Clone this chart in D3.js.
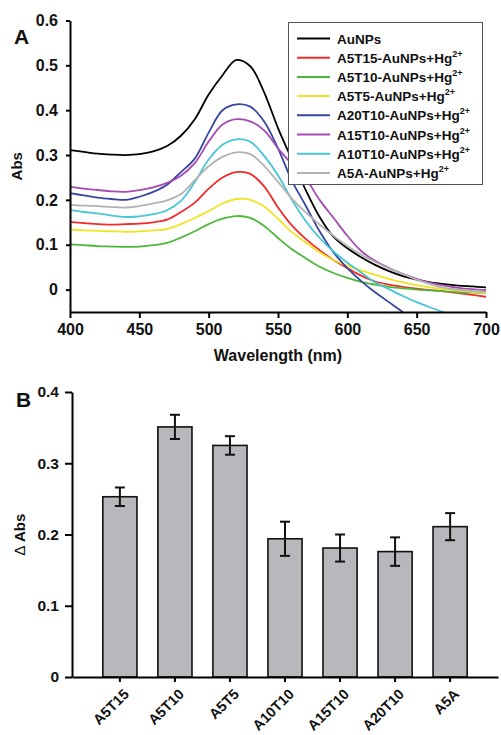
<!DOCTYPE html>
<html>
<head>
<meta charset="utf-8">
<script src="https://cdn.jsdelivr.net/npm/d3@7/dist/d3.min.js"></script>
<style>
  html, body { margin: 0; padding: 0; background: #fff; }
  svg { display: block; font-family: "Liberation Sans", Arial, sans-serif; }
</style>
</head>
<body>
<svg id="fig" width="501" height="735"></svg>
<script>
// ---- Panel A: UV-vis spectra (absorbance every 10 nm) ----
const wavelengths = [400, 410, 420, 430, 440, 450, 460, 470, 480, 490, 500, 510, 520, 530, 540, 550, 560, 570, 580, 590, 600, 610, 620, 630, 640, 650, 660, 670, 680, 690, 700];

const absAuNPs  = [0.311, 0.307, 0.303, 0.301, 0.300, 0.302, 0.308, 0.320, 0.343, 0.380, 0.435, 0.478, 0.512, 0.498, 0.440, 0.360, 0.290, 0.222, 0.162, 0.118, 0.092, 0.072, 0.055, 0.041, 0.030, 0.022, 0.016, 0.012, 0.009, 0.007, 0.005];
const absA5T15  = [0.151, 0.148, 0.146, 0.145, 0.146, 0.147, 0.150, 0.156, 0.173, 0.194, 0.225, 0.250, 0.262, 0.258, 0.230, 0.183, 0.143, 0.113, 0.088, 0.066, 0.048, 0.031, 0.018, 0.011, 0.006, 0.002, -0.001, -0.004, -0.008, -0.012, -0.016];
const absA5T10  = [0.101, 0.099, 0.097, 0.096, 0.095, 0.096, 0.099, 0.104, 0.116, 0.130, 0.146, 0.158, 0.164, 0.160, 0.142, 0.115, 0.090, 0.070, 0.051, 0.037, 0.026, 0.017, 0.011, 0.006, 0.003, 0.000, -0.002, -0.004, -0.006, -0.007, -0.008];
const absA5T5   = [0.134, 0.132, 0.131, 0.130, 0.129, 0.130, 0.132, 0.135, 0.146, 0.160, 0.175, 0.192, 0.202, 0.200, 0.185, 0.158, 0.128, 0.105, 0.083, 0.066, 0.053, 0.043, 0.033, 0.024, 0.016, 0.010, 0.005, 0.001, -0.002, -0.005, -0.008];
const absA20T10 = [0.215, 0.210, 0.205, 0.202, 0.200, 0.207, 0.218, 0.234, 0.262, 0.292, 0.350, 0.400, 0.413, 0.408, 0.375, 0.315, 0.243, 0.187, 0.130, 0.083, 0.048, 0.019, -0.006, -0.028, -0.050, null, null, null, null, null, null];
const absA15T10 = [0.229, 0.225, 0.222, 0.219, 0.218, 0.222, 0.228, 0.238, 0.254, 0.282, 0.330, 0.368, 0.380, 0.375, 0.355, 0.315, 0.280, 0.248, 0.200, 0.160, 0.120, 0.086, 0.064, 0.048, 0.035, 0.024, 0.015, 0.009, 0.004, 0.001, -0.001];
const absA10T10 = [0.177, 0.173, 0.170, 0.165, 0.162, 0.163, 0.168, 0.177, 0.198, 0.240, 0.290, 0.323, 0.335, 0.330, 0.298, 0.255, 0.200, 0.153, 0.115, 0.085, 0.060, 0.038, 0.016, 0.001, -0.014, -0.028, -0.040, -0.051, null, null, null];
const absA5A    = [0.189, 0.187, 0.186, 0.184, 0.183, 0.186, 0.192, 0.199, 0.213, 0.244, 0.275, 0.296, 0.306, 0.302, 0.276, 0.240, 0.203, 0.172, 0.145, 0.120, 0.097, 0.078, 0.062, 0.047, 0.035, 0.022, 0.012, 0.004, 0.000, -0.003, -0.005];

const seriesNames  = ["AuNPs", "A5T15-AuNPs+Hg", "A5T10-AuNPs+Hg", "A5T5-AuNPs+Hg", "A20T10-AuNPs+Hg", "A15T10-AuNPs+Hg", "A10T10-AuNPs+Hg", "A5A-AuNPs+Hg"];
const seriesSup    = ["", "2+", "2+", "2+", "2+", "2+", "2+", "2+"];
const seriesColors = ["#000000", "#f52a2a", "#4cb83a", "#f0e524", "#3545a3", "#a54bb3", "#45c6d6", "#b2b2b2"];
const seriesValues = [absAuNPs, absA5T15, absA5T10, absA5T5, absA20T10, absA15T10, absA10T10, absA5A];

const xTicksA = [400, 450, 500, 550, 600, 650, 700];
const yTicksA = [0, 0.1, 0.2, 0.3, 0.4, 0.5, 0.6];

// ---- Panel B: absorbance change ----
const probes   = ["A5T15", "A5T10", "A5T5", "A10T10", "A15T10", "A20T10", "A5A"];
const deltaAbs = [0.253, 0.351, 0.325, 0.194, 0.181, 0.176, 0.211];
const errAbs   = [0.013, 0.017, 0.013, 0.024, 0.019, 0.020, 0.019];
const yTicksB  = [0, 0.1, 0.2, 0.3, 0.4];

const svg = d3.select("#fig");
const fmt = d => d === 0 ? "0" : d3.format(".1f")(d);
const FONT = "Liberation Sans, Arial, sans-serif";

// ===== Panel A =====
const xA = d3.scaleLinear().domain([400, 700]).range([70, 486]);
const yA = d3.scaleLinear().domain([-0.05, 0.6]).range([312, 20.5]);

svg.append("defs").append("clipPath").attr("id", "clipA")
  .append("rect").attr("x", xA(400)).attr("y", yA(0.6))
  .attr("width", xA(700) - xA(400)).attr("height", yA(-0.05) - yA(0.6));

const line = d3.line()
  .defined(d => d[1] !== null)
  .x(d => xA(d[0])).y(d => yA(d[1]))
  .curve(d3.curveCatmullRom.alpha(0.5));

const curves = svg.append("g").attr("clip-path", "url(#clipA)");
seriesValues.forEach((vals, i) => {
  curves.append("path")
    .datum(wavelengths.map((w, k) => [w, vals[k]]))
    .attr("fill", "none")
    .attr("stroke", seriesColors[i])
    .attr("stroke-width", 1.8)
    .attr("stroke-linejoin", "round")
    .attr("d", line);
});

const axA_x = svg.append("g").attr("transform", `translate(0,${yA(-0.05)})`)
  .call(d3.axisBottom(xA).tickValues(xTicksA).tickSize(6).tickSizeOuter(0).tickPadding(6));
const axA_y = svg.append("g").attr("transform", `translate(${xA(400)},0)`)
  .call(d3.axisLeft(yA).tickValues(yTicksA).tickFormat(fmt).tickSize(4).tickSizeOuter(0).tickPadding(8));

[axA_x, axA_y].forEach(g => {
  g.select(".domain").attr("stroke", "#000").attr("stroke-width", 2);
  g.selectAll(".tick line").attr("stroke", "#000").attr("stroke-width", 2);
  g.selectAll(".tick text").attr("fill", "#111").attr("font-size", 16).attr("font-weight", "bold")
    .attr("font-family", FONT);
});

svg.append("text").attr("x", (xA(400) + xA(700)) / 2).attr("y", 361)
  .attr("text-anchor", "middle").attr("font-size", 16).attr("font-weight", "bold").attr("fill", "#111")
  .text("Wavelength (nm)");
svg.append("text").attr("transform", `translate(22,${(yA(0.6) + yA(-0.05)) / 2}) rotate(-90)`)
  .attr("text-anchor", "middle").attr("font-size", 15).attr("font-weight", "bold").attr("fill", "#111")
  .text("Abs");
svg.append("text").attr("x", 14).attr("y", 44).attr("font-size", 21).attr("font-weight", "bold").attr("fill", "#111")
  .text("A");

// legend
const leg = svg.append("g");
leg.append("rect").attr("x", 288.5).attr("y", 22.5).attr("width", 194).attr("height", 162)
  .attr("fill", "#fff").attr("stroke", "#555").attr("stroke-width", 1);
seriesNames.forEach((name, i) => {
  const cy = 38.5 + i * 19.2;
  leg.append("line").attr("x1", 297).attr("x2", 330).attr("y1", cy).attr("y2", cy)
    .attr("stroke", seriesColors[i]).attr("stroke-width", 2);
  const t = leg.append("text").attr("x", 337).attr("y", cy + 5)
    .attr("font-size", 13.5).attr("font-weight", "bold").attr("fill", "#111");
  t.append("tspan").text(name);
  if (seriesSup[i]) t.append("tspan").attr("dy", -6).attr("font-size", 9).text(seriesSup[i]);
});

// ===== Panel B =====
const xB = d3.scaleBand().domain(probes).range([72, 498]).paddingInner(0.38).paddingOuter(0.56);
const yB = d3.scaleLinear().domain([0, 0.4]).range([677, 392]);

const bars = svg.append("g");
probes.forEach((p, i) => {
  bars.append("rect")
    .attr("x", xB(p)).attr("y", yB(deltaAbs[i]))
    .attr("width", xB.bandwidth()).attr("height", yB(0) - yB(deltaAbs[i]))
    .attr("fill", "#b6b8bc").attr("stroke", "#111").attr("stroke-width", 1.6);
  const cx = xB(p) + xB.bandwidth() / 2;
  const hi = yB(deltaAbs[i] + errAbs[i]), lo = yB(deltaAbs[i] - errAbs[i]);
  bars.append("line").attr("x1", cx).attr("x2", cx).attr("y1", hi).attr("y2", lo)
    .attr("stroke", "#111").attr("stroke-width", 2);
  [hi, lo].forEach(yy => bars.append("line").attr("x1", cx - 5).attr("x2", cx + 5)
    .attr("y1", yy).attr("y2", yy).attr("stroke", "#111").attr("stroke-width", 2));
});

const axB_y = svg.append("g").attr("transform", "translate(72,0)")
  .call(d3.axisLeft(yB).tickValues(yTicksB).tickFormat(fmt).tickSize(7).tickSizeOuter(0).tickPadding(6));
axB_y.select(".domain").attr("stroke", "#000").attr("stroke-width", 2);
axB_y.selectAll(".tick line").attr("stroke", "#000").attr("stroke-width", 2);
axB_y.selectAll(".tick text").attr("fill", "#111").attr("font-size", 15.5).attr("font-weight", "bold")
  .attr("font-family", FONT);

const axB_x = svg.append("g").attr("transform", `translate(0,${yB(0)})`)
  .call(d3.axisBottom(xB).tickSize(5).tickSizeOuter(0).tickPadding(4));
axB_x.select(".domain").attr("stroke", "#000").attr("stroke-width", 2);
axB_x.selectAll(".tick line").attr("stroke", "#000").attr("stroke-width", 2);
axB_x.selectAll(".tick text")
  .attr("fill", "#111").attr("font-size", 14.5).attr("font-weight", "bold")
  .attr("font-family", FONT)
  .attr("text-anchor", "end").attr("dy", null).attr("y", 0)
  .attr("transform", "translate(10,18) rotate(-45)");

const yLab = svg.append("text").attr("transform", `translate(25,${(yB(0) + yB(0.4)) / 2}) rotate(-90)`)
  .attr("text-anchor", "middle").attr("font-size", 15).attr("fill", "#111");
yLab.append("tspan").attr("font-weight", "normal").text("\u2206 ");
yLab.append("tspan").attr("font-weight", "bold").text("Abs");

svg.append("text").attr("x", 16).attr("y", 407).attr("font-size", 21).attr("font-weight", "bold").attr("fill", "#111")
  .text("B");
</script>
</body>
</html>
